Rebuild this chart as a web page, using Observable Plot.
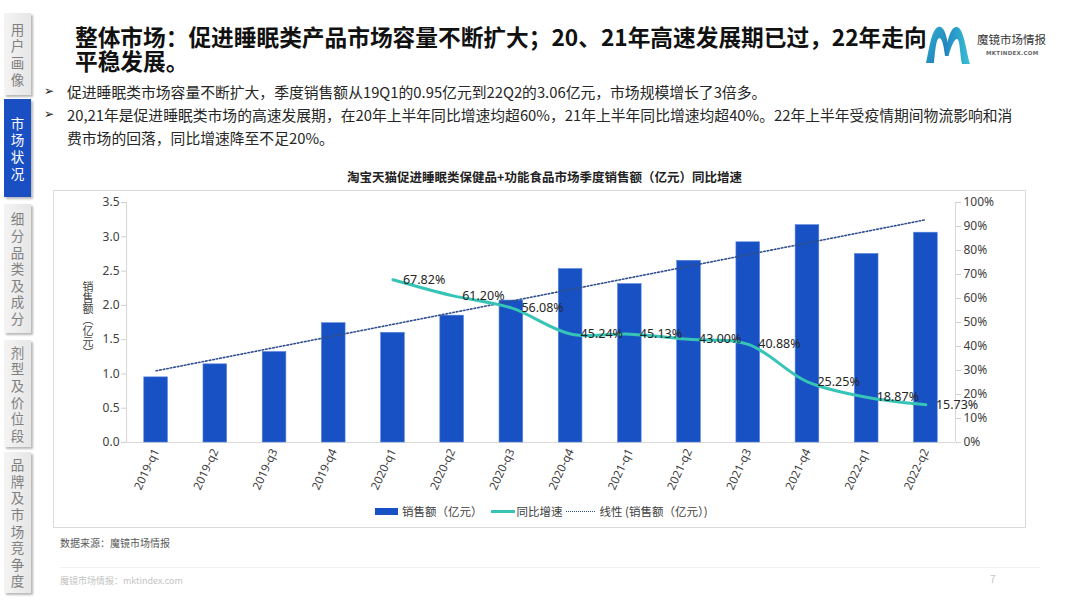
<!DOCTYPE html>
<html>
<head>
<meta charset="utf-8">
<script src="https://cdn.jsdelivr.net/npm/d3@7"></script>
<script src="https://cdn.jsdelivr.net/npm/@observablehq/plot@0.6"></script>
<style>
  html, body { margin: 0; padding: 0; background: #fff; }
  body { width: 1080px; height: 608px; position: relative; overflow: hidden;
         font-family: "Noto Sans CJK SC", "Noto Sans", sans-serif; color: #222; }
  .abs { position: absolute; }
  .tab { position: absolute; left: 4px; width: 27px; display: flex; flex-direction: column;
         align-items: center; justify-content: center; font-size: 13.5px; line-height: 16.6px;
         color: #808080; background: linear-gradient(90deg, #f4f4f4, #e6e6e6);
         box-shadow: 2px 2px 2px rgba(0,0,0,0.28); }
  .tab.active { background: #1a4fc4; color: #fff; }
  .title { left: 75px; top: 25px; font-size: 22.7px; font-weight: 700; line-height: 24px; color: #111; white-space: nowrap; }
  .bullets { left: 44px; top: 80px; font-size: 14.8px; line-height: 23px; color: #262626; white-space: nowrap; }
  .bullets .row { position: relative; padding-left: 23px; }
  .bullets .arr { position: absolute; left: 0; top: 0; font-family: "DejaVu Sans"; font-size: 12px; color: #222; }
  .frame { left: 53px; top: 190px; width: 973px; height: 338px; border: 1px solid #dadada; box-sizing: border-box; }
  .ctitle { left: 53px; width: 983px; top: 167px; text-align: center; font-size: 12.5px; font-weight: 700; color: #222; }
  .legend { left: 375px; top: 503px; display: flex; align-items: center; font-size: 11.5px; color: #404040; white-space: nowrap; }
  .ylab { left: 81px; top: 281px; writing-mode: vertical-rl; font-size: 11px; line-height: 14px; color: #404040; }
  .src { left: 60px; top: 535px; font-size: 10px; color: #595959; }
  .foot { left: 60px; top: 574px; font-size: 9px; color: #c4c4c4; }
  .page { left: 990px; top: 571px; font-size: 10px; color: #c4c4c4; }
  .hr { left: 60px; top: 567px; width: 980px; height: 1px; background: #f0f0f0; }
</style>
</head>
<body>
<script>
// ---------- data ----------
const quarters = ["2019-q1","2019-q2","2019-q3","2019-q4","2020-q1","2020-q2","2020-q3","2020-q4",
                  "2021-q1","2021-q2","2021-q3","2021-q4","2022-q1","2022-q2"];
const sales = [0.95, 1.14, 1.32, 1.74, 1.60, 1.85, 2.07, 2.53, 2.31, 2.65, 2.92, 3.17, 2.75, 3.06];
const growth = [null, null, null, null, 67.82, 61.20, 56.08, 45.24, 45.13, 43.00, 40.88, 25.25, 18.87, 15.73];
const leftTicks = [0, 0.5, 1.0, 1.5, 2.0, 2.5, 3.0, 3.5];
const rightTicks = [0, 10, 20, 30, 40, 50, 60, 70, 80, 90, 100];
const seriesNames = ["销售额（亿元）", "同比增速", "线性 (销售额（亿元）)"];
const sideTabs = ["用户画像", "市场状况", "细分品类及成分", "剂型及价位段", "品牌及市场竞争度"];
const chartTitle = "淘宝天猫促进睡眠类保健品+功能食品市场季度销售额（亿元）同比增速";
const yLabel = "销售额（亿元）";
</script>

<!-- sidebar -->
<div id="side"></div>

<div class="abs title">整体市场：促进睡眠类产品市场容量不断扩大；20、21年高速发展期已过，22年走向<br>平稳发展。</div>

<!-- logo -->
<svg class="abs" style="left:925px;top:25px" width="46" height="42" viewBox="0 0 46 42">
  <defs>
    <linearGradient id="lg1" x1="0" y1="0" x2="1" y2="1">
      <stop offset="0" stop-color="#2fb3d0"/><stop offset="1" stop-color="#1f6fb5"/>
    </linearGradient>
    <linearGradient id="lg2" x1="0" y1="0" x2="1" y2="0">
      <stop offset="0" stop-color="#1e86c0"/><stop offset="1" stop-color="#3bc0d6"/>
    </linearGradient>
  </defs>
  <path d="M1,38 C4,26 6,5 13,2 C20,0 22,14 24,24 L20,31 C19,22 17,13 14.5,13 C11,13 10,28 9,38 Z" fill="url(#lg1)"/>
  <path d="M20,31 C22,18 25,1 32,2 C39,3 41,26 45,39 L37,39 C35,30 35,14 32,14 C29,14 26,22 23.5,31 Z" fill="url(#lg2)"/>
</svg>
<div class="abs" style="left:977px;top:31px;font-size:11.5px;color:#333;">魔镜市场情报</div>
<div class="abs" style="left:986px;top:50px;font-size:5.5px;font-weight:700;color:#666;letter-spacing:0.3px;font-family:'DejaVu Sans'">MKTINDEX.COM</div>

<div class="abs bullets">
  <div class="row"><span class="arr">➢</span>促进睡眠类市场容量不断扩大，季度销售额从19Q1的0.95亿元到22Q2的3.06亿元，市场规模增长了3倍多。</div>
  <div class="row"><span class="arr">➢</span>20,21年是促进睡眠类市场的高速发展期，在20年上半年同比增速均超60%，21年上半年同比增速均超40%。22年上半年受疫情期间物流影响和消</div>
  <div class="row">费市场的回落，同比增速降至不足20%。</div>
</div>

<div class="abs ctitle" id="ctitle"></div>
<div class="abs frame" id="chart"></div>
<div class="abs ylab" id="ylab"></div>
<div class="abs legend" id="legend"></div>

<div class="abs src">数据来源：魔镜市场情报</div>
<div class="abs hr"></div>
<div class="abs foot">魔镜市场情报：mktindex.com</div>
<div class="abs page">7</div>

<script>
// sidebar
const tabPos = [[13, 82], [99, 98], [204, 129], [340, 107], [452, 141]];
const side = document.getElementById("side");
sideTabs.forEach((t, k) => {
  const d = document.createElement("div");
  d.className = "tab" + (k === 1 ? " active" : "");
  d.style.top = tabPos[k][0] + "px";
  d.style.height = tabPos[k][1] + "px";
  d.innerHTML = [...t].map(c => `<span>${c}</span>`).join("");
  side.appendChild(d);
});

document.getElementById("ctitle").textContent = chartTitle;
document.getElementById("ylab").textContent = yLabel;

const rows = quarters.map((q, i) => ({q, i, sales: sales[i], growth: growth[i]}));
const gRows = rows.filter(d => d.growth != null);
const yMax = 3.5;
const Y2 = yMax / 100; // percent -> left axis units

const barColor = "#1751c4", lineColor = "#36c4b6", trendColor = "#2f4f8f";

const plot = Plot.plot({
  width: 971, height: 336,
  marginTop: 11, marginBottom: 85, marginLeft: 72, marginRight: 70,
  x: {type: "linear", domain: [-0.5, quarters.length - 0.5]},
  y: {domain: [0, yMax]},
  style: {fontFamily: "'Noto Sans', 'Noto Sans CJK SC', sans-serif", fontSize: "12px", color: "#404040", background: "transparent", overflow: "visible"},
  marks: [
    Plot.ruleY([0], {stroke: "#d9d9d9", strokeWidth: 1.2}),
    Plot.ruleX([-0.5], {stroke: "#d9d9d9", strokeWidth: 1.2}),
    Plot.ruleX([quarters.length - 0.5], {stroke: "#d9d9d9", strokeWidth: 1.2}),
    Plot.axisY({ticks: leftTicks, tickFormat: d => d.toFixed(1), tickSize: 5, tickPadding: 2, stroke: "#d0d0d0", label: null, anchor: "left", fontSize: 12}),
    Plot.axisY({ticks: rightTicks.map(p => p * Y2), tickFormat: d => Math.round(d / Y2) + "%", tickSize: 5, tickPadding: 3, stroke: "#d0d0d0", label: null, anchor: "right", fontSize: 12}),
    Plot.axisX({ticks: quarters.map((q, i) => i), tickFormat: i => quarters[i], tickRotate: -65, tickSize: 0, tickPadding: 7, label: null, fontSize: 11.5}),
    Plot.rectY(rows, {x1: d => d.i - 0.2, x2: d => d.i + 0.2, y: "sales", fill: barColor, stroke: "#5a86dd", strokeWidth: 0.6}),
    Plot.linearRegressionY(rows, {x: "i", y: "sales", stroke: trendColor, strokeWidth: 1.6, strokeDasharray: "1.6,2", ci: 0}),
    Plot.line(gRows, {x: "i", y: d => d.growth * Y2, stroke: lineColor, strokeWidth: 3, curve: "catmull-rom"}),
    Plot.text(gRows, {x: "i", y: d => d.growth * Y2, text: d => d.growth.toFixed(2) + "%", textAnchor: "start", dx: 10, fontSize: 12.5, fill: "#262626"})
  ]
});
document.getElementById("chart").appendChild(plot);

// legend
const lg = document.getElementById("legend");
lg.innerHTML =
  `<span style="display:inline-block;width:23px;height:7px;background:${barColor};margin-right:4px"></span><span>${seriesNames[0]}</span>` +
  `<span style="display:inline-block;width:24px;height:3px;background:${lineColor};margin:0 2px 0 8px"></span><span>${seriesNames[1]}</span>` +
  `<span style="display:inline-block;width:29px;height:0;border-top:1.6px dotted ${trendColor};margin:0 5px 0 3px"></span><span>${seriesNames[2]}</span>`;
</script>
</body>
</html>
